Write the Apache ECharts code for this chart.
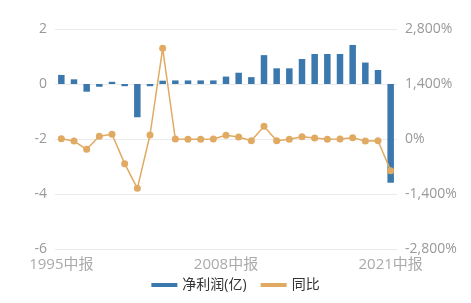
<!DOCTYPE html>
<html><head><meta charset="utf-8">
<script src="https://cdn.jsdelivr.net/npm/echarts@6/dist/echarts.min.js"></script>
<style>html,body{margin:0;padding:0;background:#fff}#c{width:471px;height:303px}</style>
</head><body><div id="c"></div>
<script>
var categories = [];
for (var y = 1995; y <= 2021; y++) categories.push(y + '中报');
var profit = [0.33, 0.17, -0.28, -0.1, 0.08, -0.08, -1.21, -0.08, 0.12, 0.13, 0.13, 0.13, 0.13, 0.27, 0.41, 0.25, 1.05, 0.57, 0.57, 0.91, 1.09, 1.09, 1.09, 1.42, 0.78, 0.51, -3.59];
var yoy = [8, -51, -262, 69, 120, -628, -1255, 102, 2308, 0, -8, -8, 0, 94, 51, -43, 323, -43, -8, 59, 25, -8, 0, 34, -51, -43, -806];
var leftTicks = {min: -6, max: 2, interval: 2};
var rightTicks = {min: -2800, max: 2800, interval: 1400};

var font = "'Open Sans','Noto Sans CJK SC',sans-serif";
var chart = echarts.init(document.getElementById('c'), null, {renderer: 'canvas'});
chart.setOption({
  animation: false,
  textStyle: {fontFamily: font},
  grid: {left: 55, right: 74, top: 29, bottom: 54, containLabel: false},
  legend: {
    bottom: 6, left: 'center', itemWidth: 26, itemHeight: 4, itemGap: 14,
    textStyle: {fontSize: 14, color: '#333', fontFamily: font},
    data: [{name: '净利润(亿)', icon: 'rect'}, {name: '同比', icon: 'rect'}]
  },
  xAxis: {
    type: 'category', data: categories,
    axisLine: {show: false}, axisTick: {show: false},
    axisLabel: {interval: 12, color: '#aaa', fontSize: 15, margin: 8, fontFamily: font}
  },
  yAxis: [{
    type: 'value', min: leftTicks.min, max: leftTicks.max, interval: leftTicks.interval,
    axisLabel: {color: '#999', fontSize: 14, margin: 8, fontFamily: font},
    splitLine: {lineStyle: {color: '#ebebeb'}},
    axisLine: {show: false}, axisTick: {show: false}
  }, {
    type: 'value', min: rightTicks.min, max: rightTicks.max, interval: rightTicks.interval,
    axisLabel: {color: '#999', fontSize: 14, margin: 8, fontFamily: font,
      formatter: function (v) { return v.toLocaleString('en-US') + '%'; }},
    splitLine: {show: false},
    axisLine: {show: false}, axisTick: {show: false}
  }],
  series: [{
    name: '净利润(亿)', type: 'bar', data: profit, yAxisIndex: 0,
    barWidth: 6.5, itemStyle: {color: '#3b78ad'}
  }, {
    name: '同比', type: 'line', data: yoy, yAxisIndex: 1,
    symbol: 'circle', symbolSize: 7,
    lineStyle: {color: '#e0aa62', width: 1.5},
    itemStyle: {color: '#e0aa62'}
  }]
});
</script></body></html>
